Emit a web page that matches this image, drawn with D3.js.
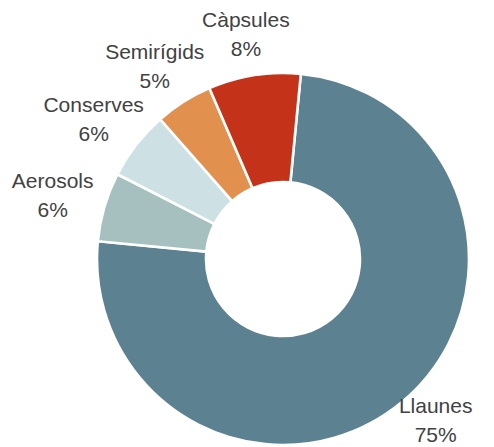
<!DOCTYPE html>
<html>
<head>
<meta charset="utf-8">
<script src="https://cdn.jsdelivr.net/npm/d3@7"></script>
<style>
  html, body { margin: 0; padding: 0; background: #fff; }
  svg { display: block; }
  .label text { font-family: "Liberation Sans", Arial, sans-serif; font-size: 21px; fill: #424242; }
</style>
</head>
<body>
<svg id="chart" width="494" height="447"></svg>
<script>
// Packaging types and their share (%)
const categories = ["Llaunes", "Aerosols", "Conserves", "Semirígids", "Càpsules"];
const shares = [75, 6, 6, 5, 8];
const colors = ["#5c8292", "#a6c0c0", "#cde1e5", "#e2904d", "#c4321a"];

const width = 494, height = 447;
const cx = 283, cy = 259;
const outerR = 186, innerR = 77;
// labels sit on an ellipse around the ring (wider than tall, text is wide)
const labelRx = 240, labelRy = 228;
const lineGap = 29;
const firstBaseline = -7;   // first line's baseline relative to the block centre
const descent = 5;          // room below the last baseline

const data = categories.map((c, i) => ({ name: c, value: shares[i] }));

const svg = d3.select("#chart");
const g = svg.append("g").attr("transform", `translate(${cx},${cy})`);

const rot = 5.5 * Math.PI / 180;
const pie = d3.pie()
  .sort(null)
  .value(d => d.value)
  .startAngle(rot)
  .endAngle(rot + 2 * Math.PI);

const arcs = pie(data);

const arc = d3.arc().innerRadius(innerR).outerRadius(outerR);

g.selectAll("path.slice")
  .data(arcs)
  .join("path")
  .attr("class", "slice")
  .attr("d", arc)
  .attr("fill", (d, i) => colors[i])
  .attr("stroke", "#fff")
  .attr("stroke-width", 2.6);

// label block centre at the slice's middle angle; the block is kept
// inside the bottom edge of the view
function labelPos(d) {
  const a = (d.startAngle + d.endAngle) / 2;
  const x = labelRx * Math.sin(a);
  let y = -labelRy * Math.cos(a);
  const maxY = (height - descent) - cy - (firstBaseline + lineGap);
  y = Math.min(y, maxY);
  return [x, y];
}

const labels = g.selectAll("g.label")
  .data(arcs)
  .join("g")
  .attr("class", "label")
  .attr("transform", d => `translate(${labelPos(d)})`);

labels.append("text")
  .attr("text-anchor", "middle")
  .attr("y", firstBaseline)
  .text(d => d.data.name);

labels.append("text")
  .attr("text-anchor", "middle")
  .attr("y", firstBaseline + lineGap)
  .text(d => d3.format(".0f")(d.data.value) + "%");
</script>
</body>
</html>
